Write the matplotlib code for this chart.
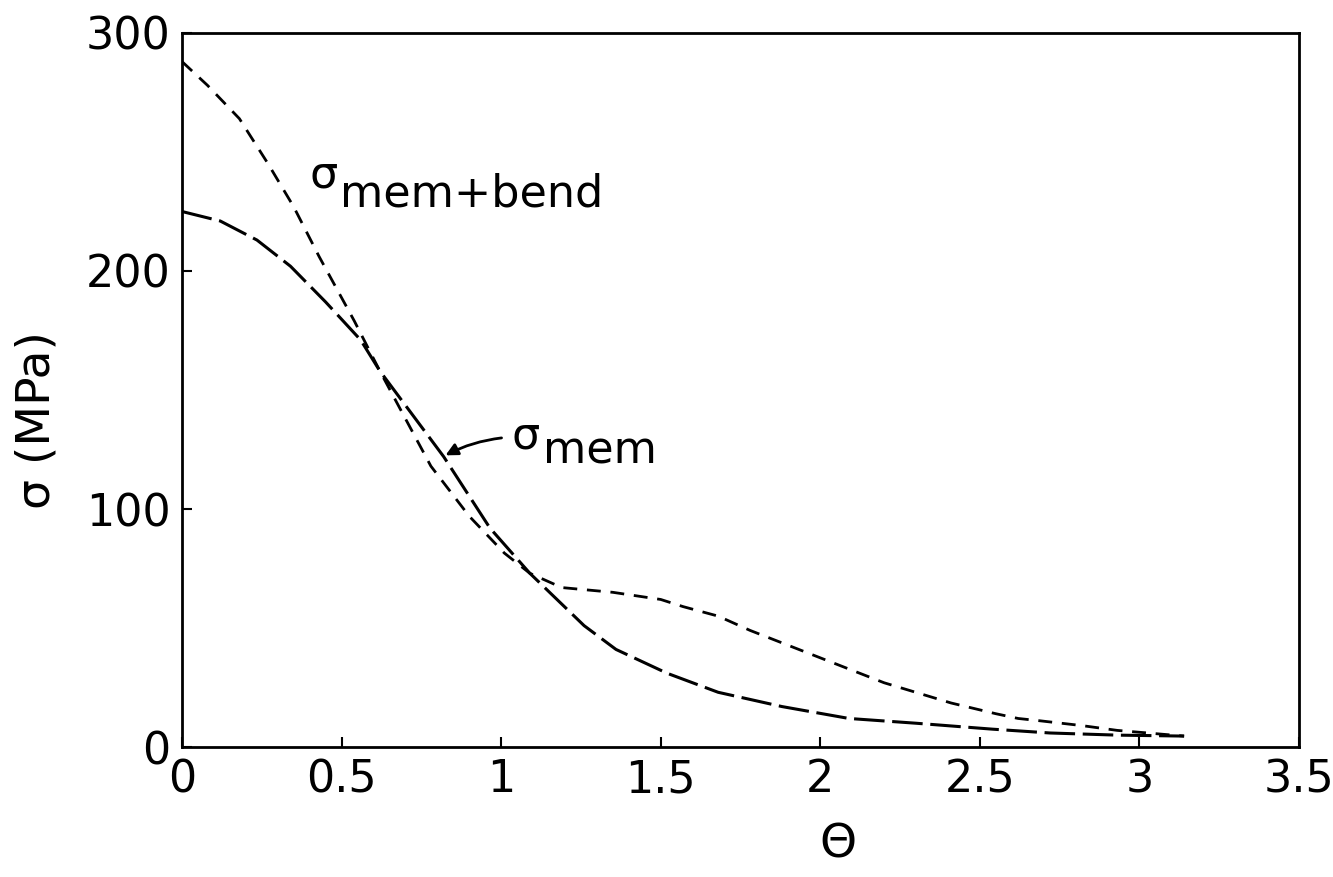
import numpy as np
import matplotlib.pyplot as plt

# values
theta_mem = [0.0, 0.12, 0.235, 0.34, 0.45, 0.56, 0.62, 0.82, 0.965, 1.09, 1.26,
             1.36, 1.52, 1.68, 1.88, 2.09, 2.30, 2.54, 2.72, 2.93, 3.14]
sig_mem = [225, 221, 213, 202, 187, 171, 158, 122, 92, 73, 51,
           41, 31, 23, 17, 12, 10, 7.5, 5.9, 5.0, 4.6]

theta_mb = [0.0, 0.08, 0.18, 0.27, 0.35, 0.43, 0.54, 0.62, 0.78, 0.90, 1.01, 1.09,
            1.19, 1.35, 1.50, 1.57, 1.68, 1.78, 1.99, 2.20, 2.41, 2.55, 2.62,
            2.69, 2.82, 2.93, 3.14]
sig_mb = [288, 278, 264, 245, 227, 206, 179, 158, 118, 97, 81.5, 73,
          67, 65, 62, 59, 55, 49, 38, 27, 18.5, 14, 12,
          11, 9, 7, 4.6]

xticks = [0, 0.5, 1, 1.5, 2, 2.5, 3, 3.5]
xlabels = ['0', '0.5', '1', '1.5', '2', '2.5', '3', '3.5']
yticks = [0, 100, 200, 300]

plt.rcParams['font.family'] = ['DejaVu Sans']

fig = plt.figure(figsize=(13.33, 8.77), dpi=100)
ax = fig.add_axes([0.1365, 0.1482, 0.838, 0.8142])

ax.plot(theta_mem, sig_mem, color='black', lw=2.2, dashes=(10, 2.5))
ax.plot(theta_mb, sig_mb, color='black', lw=2.0, dashes=(5, 3.5))

ax.set_xlim(0, 3.5)
ax.set_ylim(0, 300)
ax.set_xticks(xticks)
ax.set_xticklabels(xlabels)
ax.set_yticks(yticks)
ax.tick_params(direction='in', length=7, width=1.5, labelsize=32, pad=8)
for s in ax.spines.values():
    s.set_linewidth(2)

ax.set_xlabel('Θ', fontsize=34, labelpad=6)
ax.xaxis.set_label_coords(0.587, -0.105)
ax.set_ylabel('σ (MPa)', fontsize=34)
ax.yaxis.set_label_coords(-0.11, 0.458)

# curve labels
ax.text(0.40, 235, 'σ', fontsize=32, va='baseline', ha='left')
ax.text(0.495, 227, 'mem+bend', fontsize=32, va='baseline', ha='left')

ax.text(1.034, 125.6, 'σ', fontsize=32, va='baseline', ha='left')
ax.text(1.13, 119, 'mem', fontsize=32, va='baseline', ha='left')
ax.annotate('', xy=(0.818, 122), xytext=(1.01, 130),
            arrowprops=dict(arrowstyle='-|>', color='black', lw=2,
                            connectionstyle='arc3,rad=0.1', mutation_scale=18))

plt.savefig('out.png', dpi=100)
